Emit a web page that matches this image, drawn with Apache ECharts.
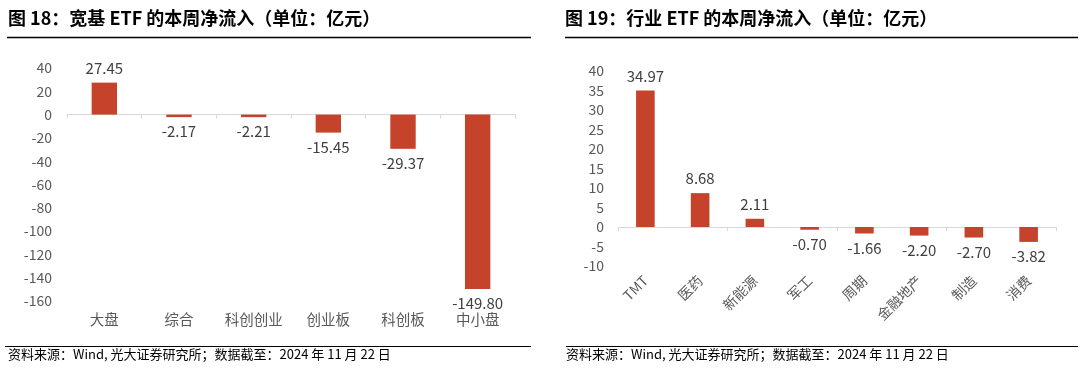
<!DOCTYPE html>
<html><head><meta charset="utf-8">
<script src="https://cdn.jsdelivr.net/npm/echarts@6/dist/echarts.min.js"></script>
<style>html,body{margin:0;padding:0;background:#fff}#c{width:1080px;height:373px}</style>
</head><body><div id="c"></div>
<script>
const title1 = '图 18：宽基 ETF 的本周净流入（单位：亿元）';
const title2 = '图 19：行业 ETF 的本周净流入（单位：亿元）';
const footer = '资料来源：Wind, 光大证券研究所；数据截至：2024 年 11 月 22 日';
const cats1 = ['大盘','综合','科创创业','创业板','科创板','中小盘'];
const vals1 = [27.45,-2.17,-2.21,-15.45,-29.37,-149.80];
const cats2 = ['TMT','医药','新能源','军工','周期','金融地产','制造','消费'];
const vals2 = [34.97,8.68,2.11,-0.70,-1.66,-2.20,-2.70,-3.82];

const FONT = '"Noto Sans CJK SC","Noto Sans",sans-serif';
const RED = '#C5432A';
const chart = echarts.init(document.getElementById('c'));

function barData(vals){
  return vals.map(v => ({value:v, label:{position: v>=0?'top':'bottom'}}));
}
function catAxes(gi, cats, rotate, fs, margin){
  return [
    {type:'category', gridIndex:gi, data:cats, position:'bottom',
     axisLine:{show:false,onZero:false}, axisTick:{show:false},
     axisLabel:{color:'#595959', fontSize:fs, fontFamily:FONT, rotate:rotate, margin:margin, interval:0}},
    {type:'category', gridIndex:gi, data:cats, boundaryGap:true,
     axisLine:{show:true,onZero:true,lineStyle:{color:'#D9D9D9',width:1}},
     axisTick:{show:true,inside:true,length:4,lineStyle:{color:'#D9D9D9'}},
     axisLabel:{show:false}}
  ];
}
const labelCommon = {show:true, color:'#404040', fontSize:15, fontFamily:FONT, distance:7,
  formatter:p=>p.value.toFixed(2)};

chart.setOption({
  animation:false,
  textStyle:{fontFamily:FONT},
  grid:[
    {left:67, right:1080-515, top:68, bottom:373-301},
    {left:618, right:1080-1056, top:71, bottom:373-266}
  ],
  xAxis:[...catAxes(0,cats1,0,14.5,11), ...catAxes(1,cats2,45,14,12)],
  yAxis:[
    {type:'value', gridIndex:0, min:-160, max:40, interval:20, splitLine:{show:false},
     axisLine:{show:false}, axisTick:{show:false},
     axisLabel:{color:'#595959', fontSize:14, fontFamily:FONT, margin:15}},
    {type:'value', gridIndex:1, min:-10, max:40, interval:5, splitLine:{show:false},
     axisLine:{show:false}, axisTick:{show:false},
     axisLabel:{color:'#595959', fontSize:14, fontFamily:FONT, margin:14}}
  ],
  series:[
    {type:'bar', xAxisIndex:0, yAxisIndex:0, data:barData(vals1), barWidth:'34%',
     itemStyle:{color:RED}, label:labelCommon},
    {type:'bar', xAxisIndex:2, yAxisIndex:1, data:barData(vals2), barWidth:'34%',
     itemStyle:{color:RED}, label:labelCommon}
  ],
  graphic:[
    {type:'text', left:8, top:9, style:{text:title1, font:'bold 18px '+FONT, fill:'#000'}},
    {type:'text', left:565, top:9, style:{text:title2, font:'bold 18px '+FONT, fill:'#000'}},
    {type:'line', shape:{x1:7,y1:37.5,x2:531,y2:37.5}, style:{stroke:'#000',lineWidth:1.5}},
    {type:'line', shape:{x1:565,y1:37.5,x2:1078,y2:37.5}, style:{stroke:'#000',lineWidth:1.5}},
    {type:'line', shape:{x1:5,y1:346.5,x2:531,y2:346.5}, style:{stroke:'#000',lineWidth:1.2}},
    {type:'line', shape:{x1:566,y1:346.5,x2:1078,y2:346.5}, style:{stroke:'#000',lineWidth:1.2}},
    {type:'text', left:8, top:348, style:{text:footer, font:'13px '+FONT, fill:'#000'}},
    {type:'text', left:566, top:348, style:{text:footer, font:'13px '+FONT, fill:'#000'}}
  ]
});
</script></body></html>
